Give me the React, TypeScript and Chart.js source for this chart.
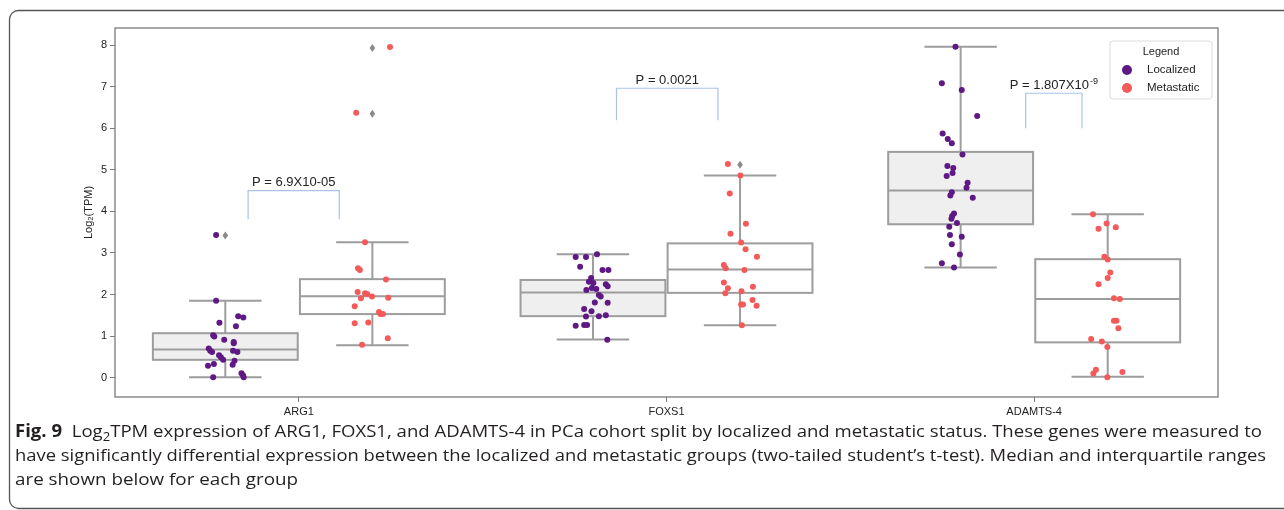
import React, { useEffect, useRef } from 'react';
import { Chart, registerables } from 'chart.js';

Chart.register(...registerables);

// ---------------- data ----------------
const categories = ['ARG1', 'FOXS1', 'ADAMTS-4'];
const groupLabels = ['Localized', 'Metastatic'];
const yTicks = [0, 1, 2, 3, 4, 5, 6, 7, 8];

// box stats: [lower whisker, Q1, median, Q3, upper whisker]
const localizedBoxes = [
  [0.01, 0.43, 0.68, 1.07, 1.85],
  [0.92, 1.48, 2.05, 2.35, 2.97],
  [2.65, 3.69, 4.5, 5.43, 7.96],
];
const metastaticBoxes = [
  [0.78, 1.53, 1.96, 2.37, 3.26],
  [1.26, 2.04, 2.6, 3.23, 4.86],
  [0.02, 0.85, 1.89, 2.85, 3.93],
];
const localizedOutliers = [[3.42], [], []];
const metastaticOutliers = [[6.35, 7.93], [5.12], []];

// individual samples (value) and horizontal strip jitter (category units)
const arg1LocalizedValues = [3.43, 1.85, 1.32, 1.48, 1.45, 1.24, 1.02, 0.99, 0.91, 0.86, 0.83, 0.7, 0.65, 0.62, 0.65, 0.62, 0.54, 0.49, 0.43, 0.41, 0.31, 0.33, 0.29, 0.11, 0.06, 0.01, 0.01];
const arg1LocalizedJitter = [-0.025, -0.025, -0.016, 0.035, 0.049, 0.029, -0.033, -0.03, -0.003, 0.023, 0.023, -0.045, -0.041, -0.036, 0.021, 0.033, -0.017, -0.012, -0.006, 0.025, 0.02, -0.031, -0.047, 0.044, 0.048, 0.05, -0.033];
const arg1MetastaticValues = [7.95, 6.37, 3.26, 2.63, 2.59, 2.36, 2.06, 2.03, 2.01, 1.91, 1.95, 1.92, 1.72, 1.58, 1.53, 1.53, 1.31, 1.33, 0.95, 0.79];
const arg1MetastaticJitter = [0.048, -0.044, -0.02, -0.039, -0.034, 0.037, -0.04, -0.02, -0.014, -0.031, -0.001, 0.043, -0.048, 0.018, 0.022, 0.029, -0.048, -0.011, 0.042, -0.028];

const foxs1LocalizedValues = [2.97, 2.9, 2.9, 2.67, 2.59, 2.59, 2.4, 2.31, 2.28, 2.25, 2.2, 2.16, 2.13, 2.11, 1.99, 1.95, 1.81, 1.8, 1.65, 1.6, 1.5, 1.48, 1.47, 1.27, 1.27, 1.25, 0.91];
const foxs1LocalizedJitter = [0.011, -0.047, -0.019, -0.035, 0.026, 0.042, -0.005, -0.011, 0.001, 0.035, 0.04, -0.003, 0.009, -0.018, 0.016, 0.021, 0.005, 0.04, -0.024, -0.004, 0.035, 0.016, -0.019, -0.024, -0.016, -0.047, 0.039];
const foxs1MetastaticValues = [5.14, 4.86, 4.43, 3.7, 3.46, 3.25, 3.09, 2.91, 2.71, 2.63, 2.59, 2.29, 2.19, 2.15, 2.08, 2.03, 1.87, 1.76, 1.76, 1.73, 1.26];
const foxs1MetastaticJitter = [-0.033, 0.001, -0.028, 0.016, -0.026, 0.003, 0.015, 0.046, -0.044, -0.039, 0.012, -0.044, 0.035, -0.033, 0.004, -0.04, 0.034, 0.003, 0.008, 0.045, 0.005];

const adamts4LocalizedValues = [7.96, 7.08, 6.92, 6.29, 5.87, 5.74, 5.64, 5.37, 5.09, 5.04, 4.92, 4.85, 4.69, 4.57, 4.46, 4.38, 4.33, 3.95, 3.89, 3.82, 3.72, 3.63, 3.43, 3.39, 3.21, 2.96, 2.75, 2.65];
const adamts4LocalizedJitter = [-0.014, -0.051, 0.003, 0.045, -0.049, -0.035, -0.024, 0.005, -0.036, -0.02, -0.022, -0.038, 0.019, 0.016, -0.024, -0.028, 0.033, -0.018, -0.023, -0.025, -0.01, -0.031, -0.029, 0.003, -0.024, -0.002, -0.051, -0.018];
const adamts4MetastaticValues = [3.93, 3.71, 3.62, 3.58, 2.91, 2.84, 2.53, 2.4, 2.25, 1.91, 1.89, 1.37, 1.37, 1.19, 0.93, 0.87, 0.74, 0.19, 0.14, 0.1, 0.01];
const adamts4MetastaticJitter = [-0.04, -0.003, 0.022, -0.025, -0.009, 0.0, 0.007, 0.0, -0.025, 0.017, 0.033, 0.017, 0.024, 0.029, -0.045, -0.016, -0.001, -0.032, 0.04, -0.039, -0.001];

// significance annotations
const pLabels = ['P = 6.9X10-05', 'P = 0.0021', 'P = 1.807X10'];
const pSuperscripts = ['', '', '-9'];
const bracketX = [[-0.138, 0.11], [0.864, 1.14], [1.977, 2.13]];
const bracketY = [[4.5, 3.81], [6.96, 6.19], [6.84, 6.0]]; // [top, leg end]

// ---------------- styling ----------------
const DODGE = 0.2;
const BOX_W = 0.394;
const LOC_COLOR = '#5f1984';
const MET_COLOR = '#f35a59';
const BOX_LINE = '#9d9d9d';
const SPINE = '#7a7a7a';
const FONT = "'Liberation Sans', Arial, Helvetica, sans-serif";

const localizedSeries = [
  [arg1LocalizedValues, arg1LocalizedJitter],
  [foxs1LocalizedValues, foxs1LocalizedJitter],
  [adamts4LocalizedValues, adamts4LocalizedJitter],
];
const metastaticSeries = [
  [arg1MetastaticValues, arg1MetastaticJitter],
  [foxs1MetastaticValues, foxs1MetastaticJitter],
  [adamts4MetastaticValues, adamts4MetastaticJitter],
];

function toPoints(series: number[][][], shift: number) {
  const pts: { x: number; y: number }[] = [];
  series.forEach(([vals, jit], i) => {
    vals.forEach((v, j) => pts.push({ x: i + shift + jit[j], y: v }));
  });
  return pts;
}

const boxPlugin = {
  id: 'boxPlot',
  beforeDatasetsDraw(chart: any) {
    const { ctx, scales } = chart;
    const x = scales.x;
    const y = scales.y;
    ctx.save();
    const line = (x1: number, y1: number, x2: number, y2: number) => {
      ctx.beginPath();
      ctx.moveTo(x1, y1);
      ctx.lineTo(x2, y2);
      ctx.stroke();
    };
    [localizedBoxes, metastaticBoxes].forEach((boxes, g) => {
      const outl = g === 0 ? localizedOutliers : metastaticOutliers;
      boxes.forEach((s, i) => {
        const cxv = i + (g === 0 ? -DODGE : DODGE);
        const l = x.getPixelForValue(cxv - BOX_W / 2);
        const r = x.getPixelForValue(cxv + BOX_W / 2);
        const c = x.getPixelForValue(cxv);
        const cl = x.getPixelForValue(cxv - BOX_W / 4);
        const cr = x.getPixelForValue(cxv + BOX_W / 4);
        const [lo, q1, med, q3, hi] = s.map((v) => y.getPixelForValue(v));
        ctx.fillStyle = g === 0 ? '#efefef' : '#ffffff';
        ctx.fillRect(l, q3, r - l, q1 - q3);
        ctx.strokeStyle = BOX_LINE;
        ctx.lineWidth = 2;
        ctx.strokeRect(l, q3, r - l, q1 - q3);
        line(l, med, r, med);
        line(c, q3, c, hi);
        line(c, q1, c, lo);
        line(cl, hi, cr, hi);
        line(cl, lo, cr, lo);
        ctx.fillStyle = '#8a8a8a';
        outl[i].forEach((v) => {
          const py = y.getPixelForValue(v);
          ctx.beginPath();
          ctx.moveTo(c, py - 4);
          ctx.lineTo(c + 2.8, py);
          ctx.lineTo(c, py + 4);
          ctx.lineTo(c - 2.8, py);
          ctx.closePath();
          ctx.fill();
        });
      });
    });
    // brackets
    ctx.strokeStyle = '#a9c2ea';
    ctx.lineWidth = 1.2;
    bracketX.forEach(([a, b], i) => {
      const xa = x.getPixelForValue(a);
      const xb = x.getPixelForValue(b);
      const yt = y.getPixelForValue(bracketY[i][0]);
      const yb = y.getPixelForValue(bracketY[i][1]);
      ctx.beginPath();
      ctx.moveTo(xa, yb);
      ctx.lineTo(xa, yt);
      ctx.lineTo(xb, yt);
      ctx.lineTo(xb, yb);
      ctx.stroke();
      const cx = (xa + xb) / 2;
      const ty = yt - 8;
      ctx.fillStyle = '#222';
      ctx.textBaseline = 'middle';
      ctx.font = `13px ${FONT}`;
      const w1 = ctx.measureText(pLabels[i]).width;
      ctx.font = `9px ${FONT}`;
      const w2 = pSuperscripts[i] ? ctx.measureText(pSuperscripts[i]).width + 1 : 0;
      const start = cx - (w1 + w2) / 2;
      ctx.textAlign = 'left';
      ctx.font = `13px ${FONT}`;
      ctx.fillText(pLabels[i], start, ty);
      if (pSuperscripts[i]) {
        ctx.font = `9px ${FONT}`;
        ctx.fillText(pSuperscripts[i], start + w1 + 1, ty - 4);
      }
    });
    ctx.restore();
  },
  afterDraw(chart: any) {
    const { ctx, chartArea } = chart;
    ctx.save();
    // spines
    ctx.strokeStyle = SPINE;
    ctx.lineWidth = 1.3;
    ctx.strokeRect(chartArea.left, chartArea.top, chartArea.right - chartArea.left, chartArea.bottom - chartArea.top);
    // legend
    const lw = 102;
    const lh = 58;
    const lx = chartArea.right - 6 - lw;
    const ly = chartArea.top + 13;
    ctx.beginPath();
    if (ctx.roundRect) ctx.roundRect(lx, ly, lw, lh, 3);
    else ctx.rect(lx, ly, lw, lh);
    ctx.fillStyle = 'rgba(255,255,255,0.9)';
    ctx.fill();
    ctx.strokeStyle = '#dcdcdc';
    ctx.lineWidth = 1;
    ctx.stroke();
    ctx.fillStyle = '#222';
    ctx.font = `11px ${FONT}`;
    ctx.textBaseline = 'middle';
    ctx.textAlign = 'center';
    ctx.fillText('Legend', lx + lw / 2, ly + 11);
    chart.data.datasets.forEach((ds: any, k: number) => {
      const yy = ly + 29 + k * 18;
      ctx.beginPath();
      ctx.arc(lx + 17, yy, 5, 0, Math.PI * 2);
      ctx.fillStyle = ds.backgroundColor;
      ctx.fill();
      ctx.fillStyle = '#222';
      ctx.textAlign = 'left';
      ctx.font = `11.5px ${FONT}`;
      ctx.fillText(ds.label, lx + 37, yy);
    });
    ctx.restore();
  },
};

function BoxStripChart() {
  const ref = useRef<HTMLCanvasElement | null>(null);
  useEffect(() => {
    if (!ref.current) return;
    const chart = new Chart(ref.current, {
      type: 'scatter',
      data: {
        datasets: [
          {
            label: groupLabels[0],
            data: toPoints(localizedSeries, -DODGE),
            backgroundColor: LOC_COLOR,
            pointRadius: 3,
            pointBorderWidth: 0,
            pointHoverRadius: 3,
          },
          {
            label: groupLabels[1],
            data: toPoints(metastaticSeries, DODGE),
            backgroundColor: MET_COLOR,
            pointRadius: 3,
            pointBorderWidth: 0,
            pointHoverRadius: 3,
          },
        ],
      },
      options: {
        responsive: false,
        animation: false,
        devicePixelRatio: 1,
        layout: { padding: { left: 0, top: 28, right: 66, bottom: 0 } },
        plugins: { legend: { display: false }, tooltip: { enabled: false } },
        scales: {
          x: {
            type: 'linear',
            min: -0.5,
            max: 2.5,
            afterBuildTicks: (axis: any) => {
              axis.ticks = categories.map((_, i) => ({ value: i }));
            },
            afterFit: (axis: any) => {
              axis.height = 28;
            },
            ticks: {
              callback: (v: any) => categories[Math.round(Number(v))] ?? '',
              color: '#222',
              font: { size: 11, family: FONT },
              padding: 3,
              maxRotation: 0,
            },
            grid: { display: true, drawOnChartArea: false, drawTicks: true, tickLength: 5, tickColor: SPINE, tickWidth: 1 },
            border: { display: false },
          },
          y: {
            type: 'linear',
            min: -0.464,
            max: 8.409,
            afterBuildTicks: (axis: any) => {
              axis.ticks = yTicks.map((v) => ({ value: v }));
            },
            afterFit: (axis: any) => {
              axis.width = 115;
            },
            ticks: {
              color: '#222',
              font: { size: 11, family: FONT },
              padding: 3,
            },
            grid: { display: true, drawOnChartArea: false, drawTicks: true, tickLength: 5, tickColor: SPINE, tickWidth: 1 },
            border: { display: false },
            title: {
              display: true,
              text: 'Log\u2082(TPM)',
              color: '#222',
              font: { size: 11, family: FONT },
              padding: { top: 82, bottom: 0 },
            },
          },
        },
      },
      plugins: [boxPlugin],
    } as any);
    return () => chart.destroy();
  }, []);
  return (
    <canvas
      ref={ref}
      width={1284}
      height={425}
      style={{ position: 'absolute', left: 0, top: 0, width: 1284, height: 425 }}
    />
  );
}

const captionFont = "'Open Sans', 'Noto Sans', sans-serif";

export default function App() {
  return (
    <div
      style={{
        position: 'fixed',
        left: 0,
        top: 0,
        width: 1284,
        height: 510,
        overflow: 'hidden',
        background: '#ffffff',
      }}
    >
      <BoxStripChart />
      <svg
        width={1284}
        height={510}
        style={{ position: 'absolute', left: 0, top: 0, pointerEvents: 'none' }}
      >
        <rect x={9.5} y={10.5} width={1400} height={498} rx={9} fill="none" stroke="#555" strokeWidth={1.3} />
        <text
          x={15}
          y={437}
          textLength={1247}
          lengthAdjust="spacingAndGlyphs"
          fontFamily={captionFont}
          fontSize={17}
          fill="#231f20"
          style={{ whiteSpace: 'pre' }}
        >
          <tspan fontWeight="bold">{'Fig. 9'}</tspan>
          <tspan>{'  Log'}</tspan>
          <tspan fontSize={12} dy={4}>{'2'}</tspan>
          <tspan dy={-4}>
            {'TPM expression of ARG1, FOXS1, and ADAMTS-4 in PCa cohort split by localized and metastatic status. These genes were measured to'}
          </tspan>
        </text>
        <text
          x={15}
          y={461}
          textLength={1251}
          lengthAdjust="spacingAndGlyphs"
          fontFamily={captionFont}
          fontSize={17}
          fill="#231f20"
          style={{ whiteSpace: 'pre' }}
        >
          {'have significantly differential expression between the localized and metastatic groups (two-tailed student\u2019s t-test). Median and interquartile ranges'}
        </text>
        <text
          x={15}
          y={485}
          textLength={283}
          lengthAdjust="spacingAndGlyphs"
          fontFamily={captionFont}
          fontSize={17}
          fill="#231f20"
          style={{ whiteSpace: 'pre' }}
        >
          {'are shown below for each group'}
        </text>
      </svg>
    </div>
  );
}
